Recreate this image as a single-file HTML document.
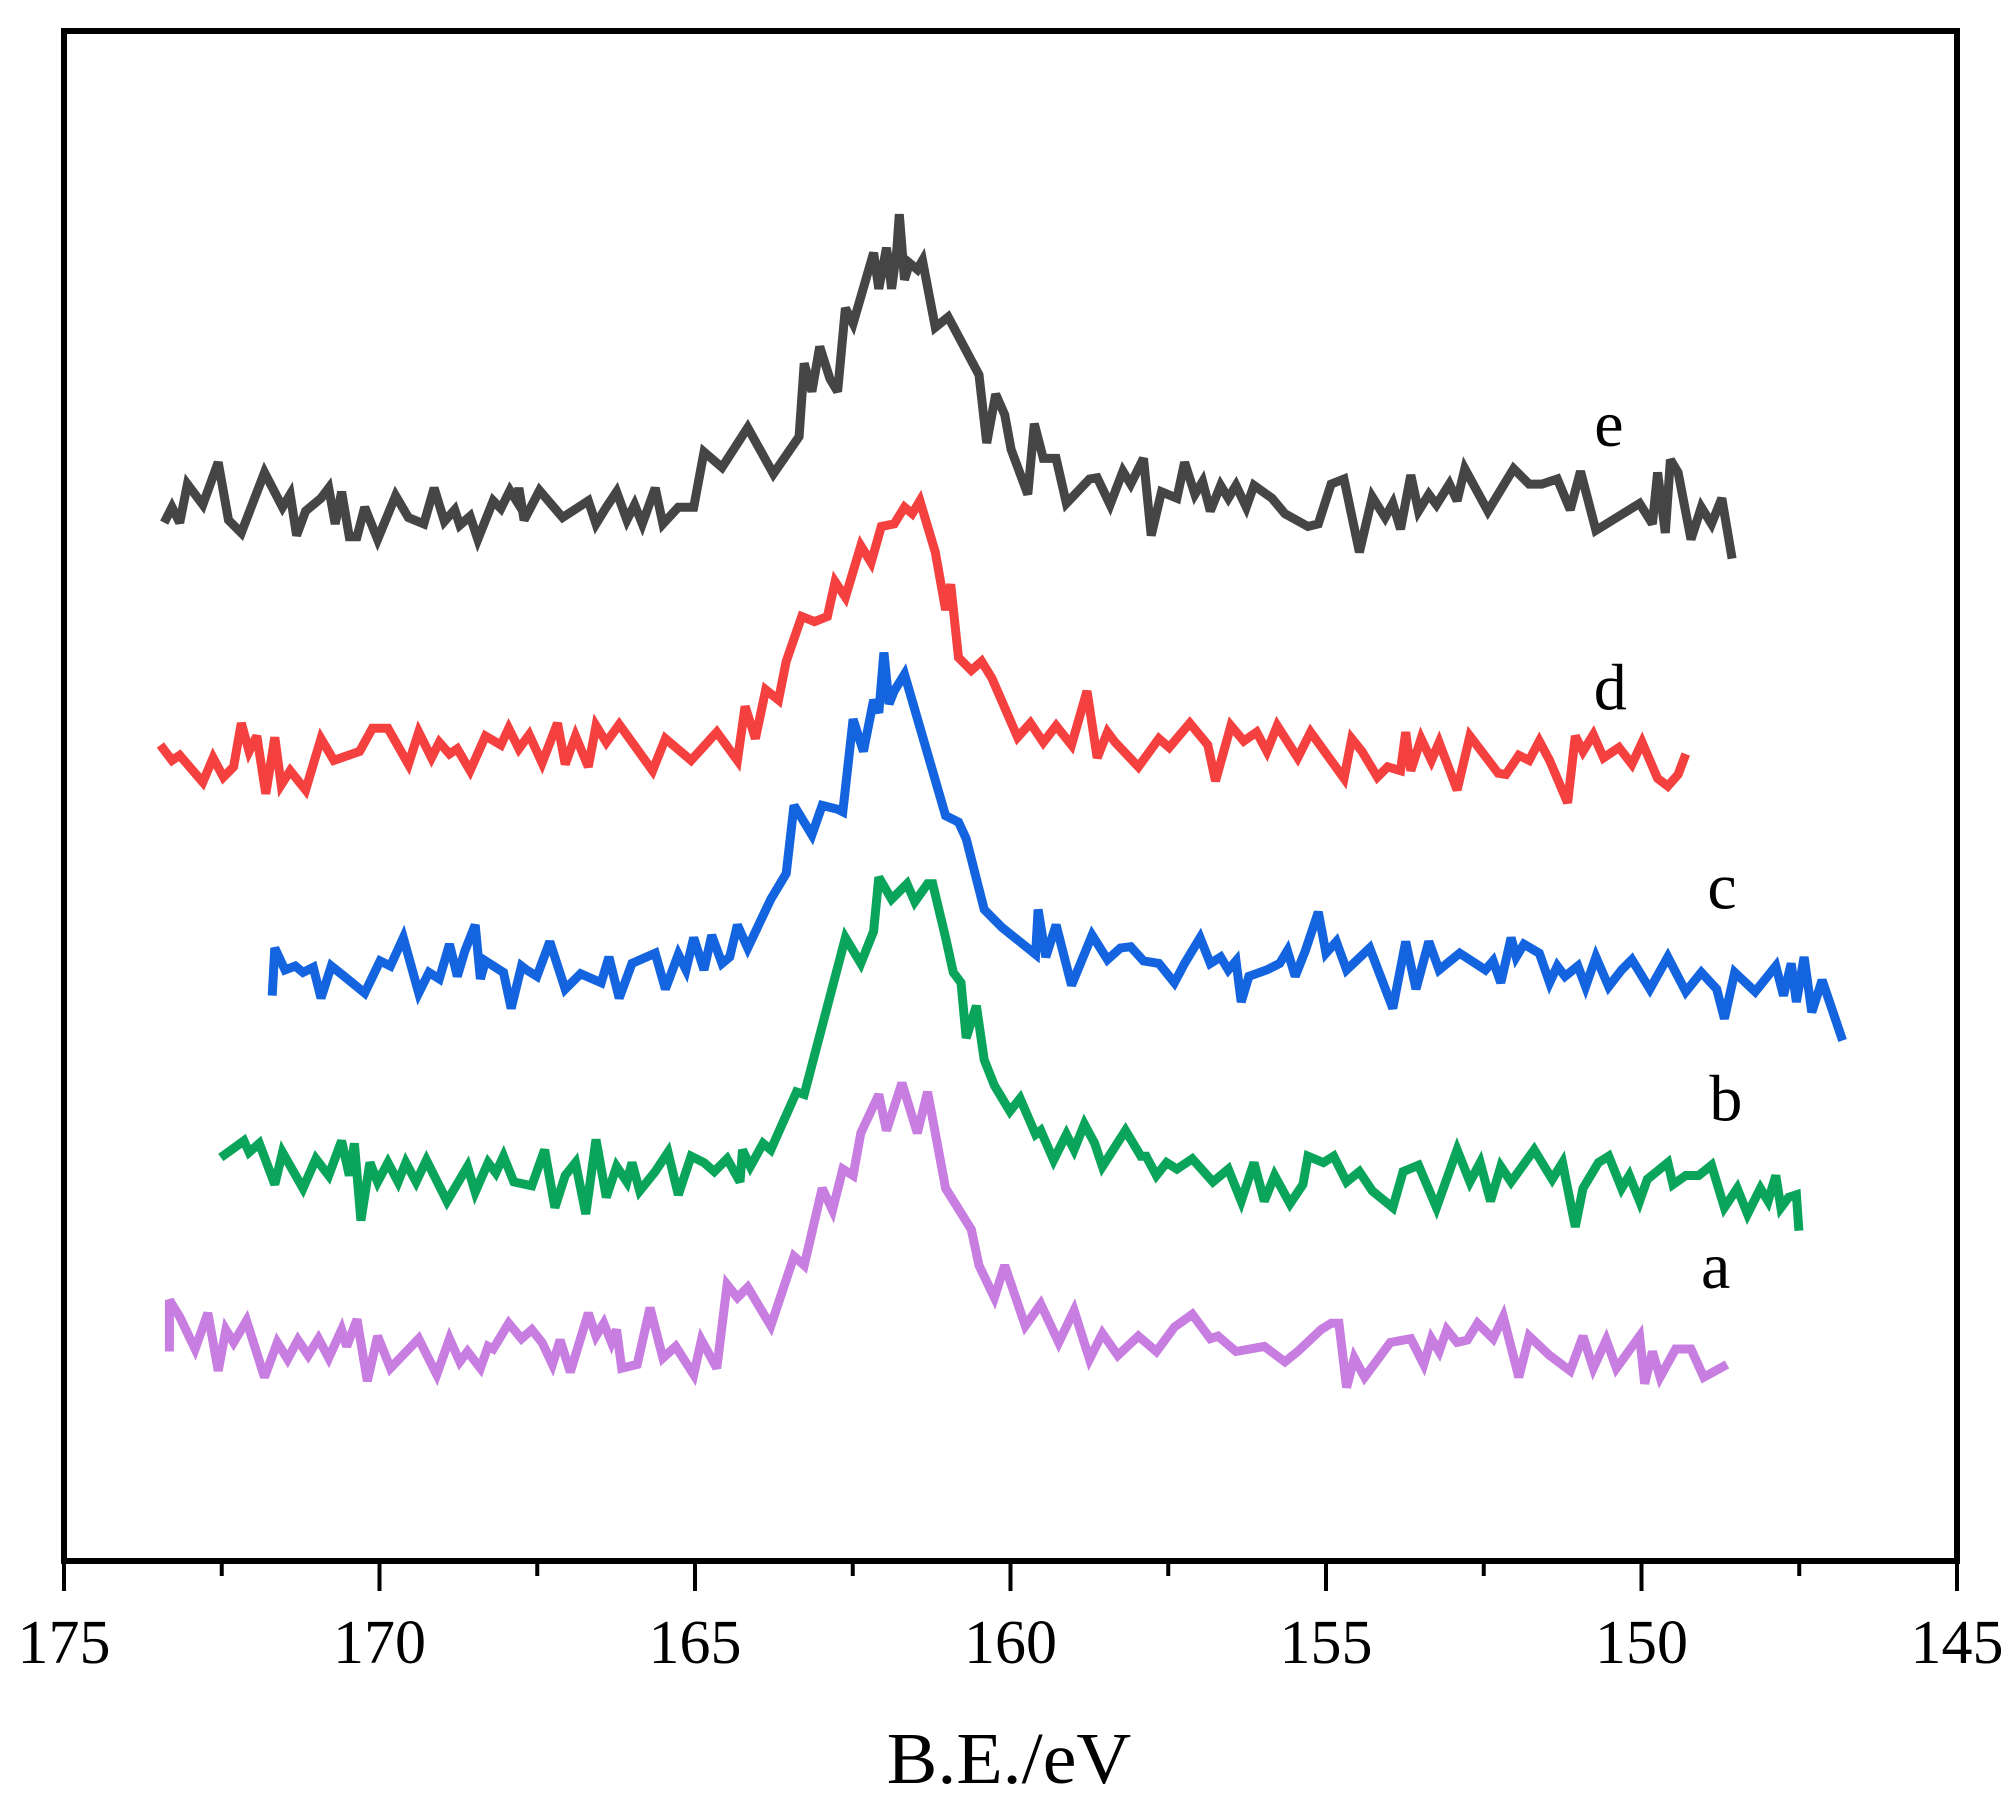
<!DOCTYPE html>
<html><head><meta charset="utf-8"><style>
html,body{margin:0;padding:0;background:#fff;}
svg{display:block;}
text{font-family:"Liberation Serif",serif;fill:#000;}
</style></head><body>
<svg id="chart" width="2015" height="1815" viewBox="0 0 2015 1815" xmlns="http://www.w3.org/2000/svg">
<g id="series"></g>
<rect x="64" y="31" width="1893" height="1530" fill="none" stroke="#000" stroke-width="6"/>
<g id="ticks"></g>
<text x="1009" y="1783" font-size="66" text-anchor="middle" transform="translate(1009 1783) scale(1.15 1.1) translate(-1009 -1783)">B.E./eV</text>
</svg>
<script>
const tickValues=[175,170,165,160,155,150,145];
const minorTicks=[172.5,167.5,162.5,157.5,152.5,147.5];
const seriesNames=["e","d","c","b","a"];
const seriesColors=["#454545","#f54040","#1464e0","#0aa55a","#c77ee0"];
const labelPos=[[1252,330],[1253,535],[1340,690],[1343,855],[1335,985]];
// raw readings: [position reading, height reading] in reference-image units
const eData=[[128,407],[134,395],[140,407],[146,377],[158,393],[170,360],[178,405],[188,415],[206,368],[220,395],[226,385],[231,417],[238,398],[250,388],[256,380],[261,408],[266,383],[272,418],[278,418],[284,395],[294,420],[308,386],[318,403],[330,408],[338,380],[346,406],[354,397],[358,409],[366,402],[372,420],[384,390],[390,396],[397,382],[402,390],[404,380],[408,405],[420,382],[438,403],[458,390],[464,408],[472,395],[480,383],[488,405],[494,393],[500,408],[510,380],[516,408],[528,395],[540,395],[548,352],[562,364],[582,333],[602,369],[622,340],[626,283],[632,305],[638,270],[646,295],[652,305],[658,240],[664,252],[680,197],[684,225],[690,193],[694,225],[698,195],[700,167],[704,218],[708,205],[714,210],[718,203],[728,255],[738,247],[762,292],[768,345],[775,307],[782,323],[787,350],[800,385],[805,330],[812,357],[822,357],[830,392],[848,373],[854,372],[864,393],[874,367],[880,377],[890,357],[896,417],[904,383],[916,388],[922,360],[930,385],[936,375],[942,398],[950,378],[956,388],[962,378],[970,395],[976,378],[990,388],[1000,400],[1018,410],[1026,408],[1036,377],[1046,373],[1058,430],[1068,387],[1078,403],[1084,392],[1090,412],[1098,370],[1104,398],[1112,385],[1118,393],[1128,377],[1134,390],[1140,365],[1158,398],[1178,365],[1190,377],[1200,377],[1212,373],[1222,397],[1230,367],[1242,413],[1276,392],[1286,408],[1290,368],[1296,415],[1300,358],[1306,368],[1316,420],[1324,395],[1332,408],[1340,388],[1348,435]];
const dData=[[125,580],[134,592],[140,588],[158,609],[166,590],[174,605],[182,597],[188,563],[194,585],[200,573],[207,618],[214,574],[219,611],[226,600],[238,615],[250,575],[260,592],[280,585],[290,567],[302,567],[318,595],[326,570],[336,590],[342,578],[350,587],[356,583],[366,600],[378,573],[390,580],[396,567],[404,583],[412,572],[422,594],[434,563],[440,595],[448,573],[458,597],[464,565],[472,578],[482,564],[508,600],[518,575],[538,592],[558,570],[574,592],[580,550],[588,575],[596,537],[606,545],[612,515],[624,480],[634,484],[644,480],[650,453],[658,465],[670,425],[678,438],[686,410],[696,408],[704,395],[710,400],[716,390],[728,430],[736,475],[740,455],[746,512],[756,522],[764,515],[772,528],[792,574],[802,563],[812,578],[822,565],[834,580],[846,538],[854,590],[862,570],[868,578],[886,597],[902,575],[910,582],[926,563],[940,580],[946,608],[958,565],[968,577],[978,570],[986,585],[994,565],[1010,590],[1020,570],[1046,606],[1052,575],[1060,585],[1072,605],[1080,597],[1090,600],[1094,570],[1098,600],[1106,575],[1114,592],[1120,578],[1134,615],[1144,573],[1166,602],[1172,603],[1182,588],[1190,592],[1198,577],[1206,592],[1220,625],[1226,573],[1232,585],[1240,572],[1248,590],[1260,582],[1270,595],[1278,578],[1290,606],[1298,612],[1306,603],[1312,587]];
const cData=[[212,775],[214,738],[222,755],[230,752],[236,757],[244,753],[250,777],[258,752],[268,760],[284,773],[296,748],[304,752],[314,730],[326,773],[334,757],[342,762],[350,735],[356,760],[362,740],[370,720],[374,762],[378,748],[392,757],[398,785],[406,752],[410,755],[418,760],[428,733],[440,770],[452,758],[468,765],[474,745],[482,777],[492,750],[510,742],[518,770],[528,743],[534,755],[540,730],[548,755],[554,728],[562,750],[568,745],[574,720],[582,738],[600,700],[612,680],[618,627],[632,650],[640,627],[652,630],[656,632],[664,560],[672,585],[680,545],[684,555],[688,508],[692,548],[696,538],[704,525],[736,635],[746,640],[752,653],[766,708],[780,722],[806,743],[808,708],[814,745],[822,720],[834,767],[850,728],[862,747],[872,738],[880,737],[890,748],[902,750],[914,765],[922,750],[934,730],[942,750],[950,745],[956,755],[962,748],[966,780],[972,760],[986,755],[996,750],[1002,740],[1008,760],[1016,740],[1026,710],[1032,742],[1040,733],[1048,755],[1066,738],[1084,785],[1094,733],[1102,770],[1112,733],[1120,755],[1136,742],[1156,755],[1162,748],[1168,765],[1176,730],[1180,745],[1186,735],[1198,742],[1206,765],[1212,752],[1218,760],[1228,752],[1234,768],[1242,745],[1252,768],[1262,755],[1270,747],[1284,770],[1298,745],[1312,772],[1324,757],[1336,770],[1342,793],[1350,757],[1366,772],[1382,752],[1388,775],[1394,750],[1398,780],[1404,745],[1410,788],[1418,763],[1434,810]];
const bData=[[172,901],[190,888],[194,897],[202,890],[214,922],[220,897],[236,925],[246,902],[256,915],[266,888],[272,915],[276,890],[281,950],[288,905],[294,920],[302,905],[310,920],[316,905],[324,920],[332,903],[348,935],[364,908],[370,928],[380,905],[386,913],[392,900],[400,920],[414,923],[424,895],[432,940],[440,915],[448,905],[456,945],[464,887],[472,932],[480,908],[488,920],[492,905],[498,927],[510,912],[520,897],[528,930],[538,900],[548,905],[556,912],[566,902],[576,920],[578,895],[584,908],[594,890],[600,895],[620,850],[626,852],[658,730],[670,750],[680,725],[684,683],[694,700],[706,688],[712,702],[722,688],[726,688],[736,730],[742,757],[748,765],[752,808],[760,783],[766,825],[774,845],[786,865],[794,855],[806,883],[810,880],[820,903],[830,883],[836,895],[844,875],[852,890],[858,908],[876,880],[888,900],[892,900],[900,915],[908,905],[916,910],[928,902],[944,920],[956,910],[966,935],[976,905],[984,935],[992,915],[1004,937],[1014,922],[1018,900],[1030,905],[1038,900],[1048,920],[1058,912],[1068,927],[1084,940],[1092,912],[1104,907],[1118,940],[1134,895],[1144,920],[1152,905],[1160,935],[1168,908],[1176,920],[1194,895],[1208,918],[1216,905],[1226,955],[1232,925],[1244,905],[1252,900],[1262,925],[1268,915],[1276,935],[1282,918],[1298,905],[1302,922],[1312,915],[1322,915],[1332,907],[1342,940],[1352,925],[1360,945],[1370,925],[1376,935],[1382,915],[1386,940],[1392,932],[1398,930],[1400,958]];
const aData=[[132,1052],[132,1012],[140,1025],[152,1050],[162,1022],[170,1067],[176,1035],[182,1045],[192,1028],[206,1072],[216,1045],[224,1058],[232,1043],[240,1055],[248,1042],[256,1057],[266,1035],[270,1048],[278,1027],[286,1075],[294,1040],[304,1065],[326,1042],[340,1070],[350,1042],[358,1060],[364,1052],[374,1065],[380,1048],[384,1050],[396,1030],[406,1042],[414,1035],[422,1045],[430,1062],[436,1043],[444,1068],[458,1022],[464,1040],[470,1030],[476,1045],[480,1035],[484,1065],[496,1062],[506,1018],[516,1057],[526,1048],[540,1070],[546,1043],[558,1065],[566,1000],[574,1010],[582,1002],[600,1032],[618,978],[626,985],[640,925],[648,942],[656,910],[664,915],[670,882],[684,852],[690,880],[702,843],[714,882],[722,850],[736,925],[756,957],[762,985],[774,1010],[782,985],[798,1032],[810,1015],[824,1045],[836,1020],[848,1058],[858,1038],[870,1055],[886,1040],[900,1052],[914,1033],[928,1023],[942,1042],[948,1040],[962,1052],[984,1048],[1000,1060],[1010,1052],[1028,1035],[1036,1030],[1042,1030],[1048,1080],[1054,1057],[1062,1072],[1082,1045],[1098,1042],[1108,1062],[1114,1042],[1120,1052],[1126,1035],[1134,1045],[1142,1043],[1150,1030],[1162,1042],[1170,1025],[1182,1072],[1190,1040],[1206,1055],[1222,1067],[1232,1040],[1240,1065],[1250,1043],[1258,1065],[1276,1040],[1280,1077],[1286,1052],[1292,1072],[1304,1050],[1316,1050],[1326,1072],[1344,1062]];
const allData=[eData,dData,cData,bData,aData];

const NS="http://www.w3.org/2000/svg";
const K=2015/1568;
function toBE(r){return 175-(r-50)/49.1;}
function toCounts(r){return 1215-r;}
function xScale(be){return 64+(175-be)*(1893/30);}
function yScale(c){return 1561-c*K;}

const sg=document.getElementById('series');
allData.forEach((data,i)=>{
  const p=document.createElementNS(NS,'polyline');
  p.setAttribute('points',data.map(d=>xScale(toBE(d[0])).toFixed(1)+','+yScale(toCounts(d[1])).toFixed(1)).join(' '));
  p.setAttribute('fill','none');
  p.setAttribute('stroke',seriesColors[i]);
  p.setAttribute('stroke-width','9');
  p.setAttribute('stroke-linejoin','miter');
  p.setAttribute('stroke-miterlimit','3');
  
  
  sg.appendChild(p);
  const t=document.createElementNS(NS,'text');
  t.setAttribute('x',(labelPos[i][0]*K).toFixed(1));
  t.setAttribute('y',(labelPos[i][1]*K+22).toFixed(1));
  t.setAttribute('font-size','66');
  t.setAttribute('text-anchor','middle');
  
  
  t.textContent=seriesNames[i];
  sg.appendChild(t);
});
const tg=document.getElementById('ticks');
tickValues.forEach(v=>{
  const l=document.createElementNS(NS,'line');
  const x=xScale(v);
  l.setAttribute('x1',x);l.setAttribute('x2',x);l.setAttribute('y1',1561);l.setAttribute('y2',1591);
  l.setAttribute('stroke','#000');l.setAttribute('stroke-width','4');
  
  
  tg.appendChild(l);
  const t=document.createElementNS(NS,'text');
  t.setAttribute('x',x);t.setAttribute('y',1663);
  t.setAttribute('font-size','62');t.setAttribute('text-anchor','middle');
  
  
  t.textContent=v;
  tg.appendChild(t);
});
minorTicks.forEach(v=>{
  const l=document.createElementNS(NS,'line');
  const x=xScale(v);
  l.setAttribute('x1',x);l.setAttribute('x2',x);l.setAttribute('y1',1561);l.setAttribute('y2',1576);
  l.setAttribute('stroke','#000');l.setAttribute('stroke-width','4');
  
  
  tg.appendChild(l);
});
</script>
</body></html>
